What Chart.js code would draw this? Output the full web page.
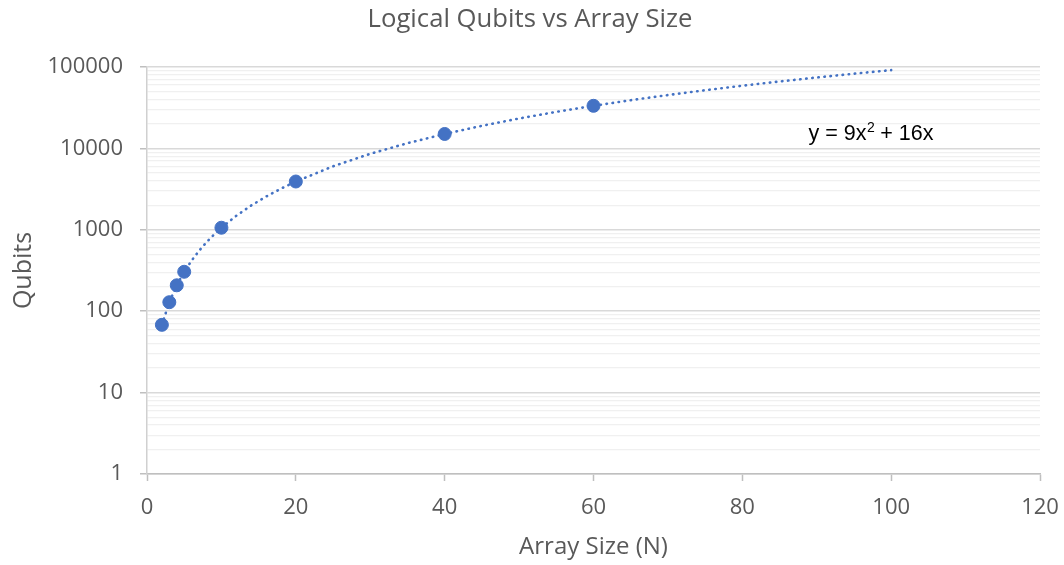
<!DOCTYPE html>
<html>
<head>
<meta charset="utf-8">
<script src="https://cdn.jsdelivr.net/npm/chart.js@4"></script>
<style>
html,body{margin:0;padding:0;background:#fff;}
#wrap{width:1064px;height:565px;}
</style>
</head>
<body>
<div id="wrap"><canvas id="c" width="1064" height="565"></canvas></div>
<script>
// Observed data points
const arraySize = [2, 3, 4, 5, 10, 20, 40, 60];
const qubits = [68, 129, 208, 305, 1060, 3920, 15040, 33360];

// Trendline (polynomial, as labelled on the chart)
const trendX = [2, 3, 4, 5, 6, 7, 8, 9, 10, 12, 14, 16, 18, 20, 25, 30, 35, 40, 45, 50, 55, 60, 65, 70, 75, 80, 85, 90, 95, 100];
const trendY = [68, 129, 208, 305, 420, 553, 704, 873, 1060, 1488, 1988, 2560, 3204, 3920, 6025, 8580, 11585, 15040, 18945, 23300, 28105, 33360, 39065, 45220, 51825, 58880, 66385, 74340, 82745, 91600];

const xTickLabels = ['0', '20', '40', '60', '80', '100', '120'];
const yTickLabels = ['1', '10', '100', '1000', '10000', '100000'];
const chartTitle = 'Logical Qubits vs Array Size';
const equationParts = ['y = 9x', '2', ' + 16x'];

const blue = '#4472C4';
const majorY = yTickLabels.map(Number);
const majorIndex = v => majorY.findIndex(m => Math.abs(m - v) < 1e-9 * m);
const isMajor = v => majorIndex(v) >= 0;

const titlePlugin = {
  id: 'centeredTitle',
  afterDraw(chart) {
    const {ctx} = chart;
    ctx.save();
    ctx.font = '25.7px "Open Sans", sans-serif';
    ctx.fillStyle = '#595959';
    ctx.textAlign = 'center';
    ctx.textBaseline = 'middle';
    ctx.fillText(chartTitle, chart.width / 2 - 2, 20);
    ctx.restore();
  }
};

const equationPlugin = {
  id: 'equation',
  afterDatasetsDraw(chart) {
    const {ctx, scales} = chart;
    const cx = scales.x.getPixelForValue(97.3);
    const cy = scales.y.getPixelForValue(15900);
    const mainFont = '21.5px "Liberation Sans", Arial, sans-serif';
    const supFont = '14px "Liberation Sans", Arial, sans-serif';
    ctx.save();
    ctx.fillStyle = '#000000';
    ctx.textBaseline = 'alphabetic';
    ctx.textAlign = 'left';
    ctx.font = mainFont;
    const w0 = ctx.measureText(equationParts[0]).width;
    const w2 = ctx.measureText(equationParts[2]).width;
    ctx.font = supFont;
    const w1 = ctx.measureText(equationParts[1]).width;
    const total = w0 + w1 + w2;
    let x = cx - total / 2;
    const base = cy + 7.5;
    ctx.font = mainFont;
    ctx.fillText(equationParts[0], x, base);
    x += w0;
    ctx.font = supFont;
    ctx.fillText(equationParts[1], x + 0.5, base - 8);
    x += w1;
    ctx.font = mainFont;
    ctx.fillText(equationParts[2], x, base);
    ctx.restore();
  }
};

new Chart(document.getElementById('c'), {
  type: 'scatter',
  data: {
    datasets: [
      {
        label: 'Qubits',
        data: arraySize.map((x, i) => ({x, y: qubits[i]})),
        backgroundColor: blue,
        borderColor: blue,
        pointRadius: 6.5,
        pointHoverRadius: 6.5,
        showLine: false
      },
      {
        label: 'Trend',
        data: trendX.map((x, i) => ({x, y: trendY[i]})),
        showLine: true,
        borderColor: blue,
        borderWidth: 2.6,
        borderDash: [0.5, 5.6],
        borderCapStyle: 'round',
        pointRadius: 0,
        fill: false,
        tension: 0
      }
    ]
  },
  options: {
    responsive: false,
    animation: false,
    devicePixelRatio: 1,
    layout: {padding: {left: 0, right: 24, top: 67, bottom: 0}},
    plugins: {
      legend: {display: false},
      tooltip: {enabled: false},
      title: {display: false}
    },
    scales: {
      x: {
        type: 'linear',
        min: 0,
        max: 120,
        afterBuildTicks: s => { s.ticks = xTickLabels.map(v => ({value: Number(v)})); },
        afterFit: s => { s.height = 91; s.paddingLeft = 0; s.paddingRight = 0; },
        ticks: {
          color: '#595959',
          font: {family: '"Open Sans", sans-serif', size: 22},
          padding: 14,
          maxRotation: 0,
          autoSkip: false,
          callback: v => String(v)
        },
        grid: {drawOnChartArea: false, drawTicks: true, tickLength: 7, tickColor: '#bfbfbf', tickWidth: 1.5},
        border: {display: true, color: '#bfbfbf', width: 1.5},
        title: {
          display: true,
          text: 'Array Size (N)',
          color: '#595959',
          font: {family: '"Open Sans", sans-serif', size: 24, lineHeight: 1.2},
          padding: {top: 0, bottom: 3}
        }
      },
      y: {
        type: 'logarithmic',
        min: 1,
        max: 100000,
        afterBuildTicks: s => {
          const t = [];
          for (let i = 0; i < majorY.length - 1; i++) {
            for (let k = 1; k < 10; k++) t.push({value: majorY[i] * k});
          }
          t.push({value: majorY[majorY.length - 1]});
          s.ticks = t;
        },
        afterFit: s => { s.width = 147; s.paddingTop = 0; s.paddingBottom = 0; },
        ticks: {
          color: '#595959',
          font: {family: '"Open Sans", sans-serif', size: 22},
          padding: 17,
          autoSkip: false,
          callback: v => isMajor(v) ? yTickLabels[majorIndex(v)] : ''
        },
        grid: {
          color: c => isMajor(c.tick.value) ? '#d9d9d9' : '#f0f0f0',
          lineWidth: c => isMajor(c.tick.value) ? 1.5 : 1.2,
          tickColor: c => isMajor(c.tick.value) ? '#bfbfbf' : 'rgba(0,0,0,0)',
          tickLength: 7
        },
        border: {display: true, color: '#d0d0d0', width: 1.5},
        title: {
          display: true,
          text: 'Qubits',
          color: '#595959',
          font: {family: '"Open Sans", sans-serif', size: 25, lineHeight: 1.2},
          padding: {top: 9, bottom: 0}
        }
      }
    }
  },
  plugins: [equationPlugin, titlePlugin]
});
</script>
</body>
</html>
